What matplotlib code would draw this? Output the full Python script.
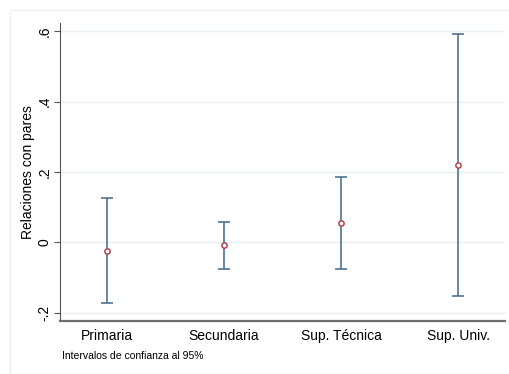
import matplotlib
matplotlib.use("Agg")
import matplotlib.pyplot as plt
from matplotlib.patches import Rectangle

# Datos
categorias = ["Primaria", "Secundaria", "Sup. Técnica", "Sup. Univ."]
coef = [-0.025, -0.009, 0.055, 0.220]
ic_inf = [-0.173, -0.075, -0.076, -0.154]
ic_sup = [0.125, 0.058, 0.186, 0.593]
yticks = [-0.2, 0, 0.2, 0.4, 0.6]
ytick_labels = ["-.2", "0", ".2", ".4", ".6"]

plt.rcParams['font.family'] = ['Liberation Sans', 'DejaVu Sans']

fig = plt.figure(figsize=(5.09, 3.74), dpi=100)
fig.patches.append(Rectangle((10/509, 0.0), 1.0, 1 - 10/374, transform=fig.transFigure,
                             fill=False, edgecolor='#eef0f0', linewidth=1))
ax = fig.add_axes([0.118, 0.1417, 0.874, 0.797])

x = list(range(1, len(categorias) + 1))
err_lo = [c - l for c, l in zip(coef, ic_inf)]
err_hi = [u - c for c, u in zip(coef, ic_sup)]
ax.errorbar(x, coef, yerr=[err_lo, err_hi], fmt='none', ecolor='#3f6889',
            elinewidth=1.1, capsize=4.5, capthick=1.1, zorder=2)
ax.plot(x, coef, 'o', markersize=3.8, markerfacecolor='white',
        markeredgecolor='#b5424d', markeredgewidth=1.1, zorder=3)

ax.set_xlim(0.6, 4.4)
ax.set_ylim(-0.224, 0.624)
ax.set_xticks(x)
ax.set_xticklabels(categorias, fontsize=10)
ax.set_yticks(yticks)
ax.set_yticklabels(ytick_labels, fontsize=10, rotation=90, va='center')
ax.set_ylabel('Relaciones con pares', fontsize=10)
ax.yaxis.set_label_coords(-0.057, 0.5)
ax.grid(True, axis='y', color='#e8f0f0', linewidth=1)
ax.set_axisbelow(True)

for s in ['top', 'right']:
    ax.spines[s].set_visible(False)
ax.spines['left'].set_color('#555555')
ax.spines['left'].set_linewidth(0.8)
ax.spines['bottom'].set_color('#707070')
ax.spines['bottom'].set_linewidth(1.6)
ax.tick_params(axis='x', length=0, pad=6)
ax.tick_params(axis='y', length=4, color='#555555', pad=2)

fig.text(62/509, 1 - 356/374, 'Intervalos de confianza al 95%', fontsize=7.5, va='center')

fig.savefig('out.png', dpi=100)
